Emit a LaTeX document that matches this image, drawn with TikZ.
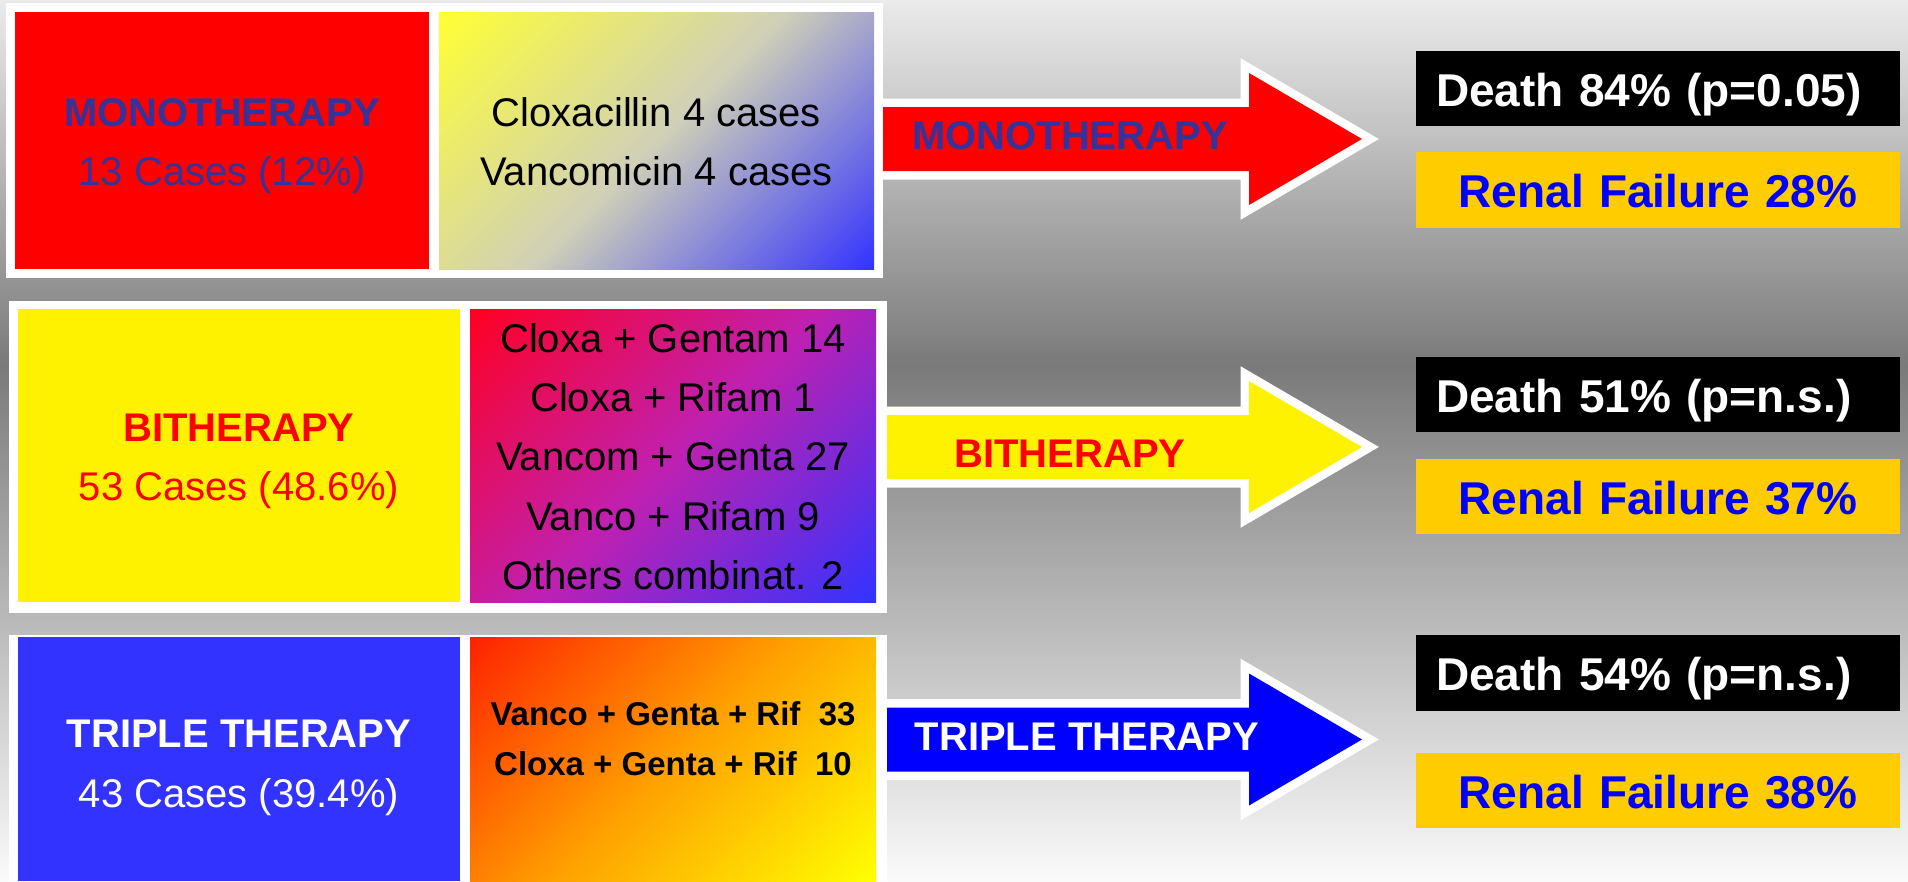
\documentclass[tikz,border=0pt]{standalone}
\usepackage{fontspec}
\setmainfont{Liberation Sans}
\definecolor{navyt}{HTML}{333399}
\definecolor{boxblue}{HTML}{3333FF}
\definecolor{gold}{HTML}{FFCC00}
\definecolor{bgtop}{HTML}{EBEBEB}
\definecolor{bgmid}{HTML}{7A7A7A}
\definecolor{bgbot}{HTML}{FAFAFA}
\definecolor{gyel}{HTML}{FFFF33}
\definecolor{gmidA}{HTML}{D0D0B8}
\definecolor{gred}{HTML}{FF0022}
\definecolor{gmidB}{HTML}{C020B0}
\definecolor{ored}{HTML}{FF2200}
\definecolor{omid}{HTML}{FFA000}
\definecolor{oyel}{HTML}{FFFF00}
\tikzset{
  framebox/.style={fill=white, inner sep=0pt, outer sep=0pt},
  panelbox/.style={inner sep=0pt, outer sep=0pt},
  txt/.style={anchor=base, inner sep=0pt, font=\fontsize{40}{48}\selectfont},
  txtb/.style={anchor=base, inner sep=0pt, font=\bfseries\fontsize{40}{48}\selectfont},
  txts/.style={anchor=base, inner sep=0pt, font=\bfseries\fontsize{33}{40}\selectfont},
  arrowbody/.style={preaction={draw=white, line width=17pt, line join=miter, miter limit=10}},
  resbox/.style={inner sep=0pt, outer sep=0pt, minimum width=484pt, minimum height=75.5pt,
     text width=444pt, text height=35pt, text depth=0pt, font=\bfseries\fontsize{46}{55}\selectfont},
  deathbox/.style={resbox, fill=black, text=white, align=left},
  renalbox/.style={resbox, fill=gold, text=blue, align=center},
}
\newcommand\blockarrow[2]{%
  \path[arrowbody, fill=#1] (870,#2-32) -- (1249,#2-32) -- (1249,#2-66) -- (1362,#2)
    -- (1249,#2+66) -- (1249,#2+32) -- (870,#2+32) -- cycle;}
\begin{document}
\begin{tikzpicture}[x=1pt, y=-1pt]
\useasboundingbox (0,0) rectangle (1908,881);
% background
\shade[top color=bgtop, bottom color=bgmid] (0,0) rectangle (1908,365);
\shade[top color=bgmid, bottom color=bgbot] (0,365) rectangle (1908,881);
% arrows
\blockarrow{red}{139}
\blockarrow{yellow}{447}
\blockarrow{blue}{739.5}
% frames
\node[framebox, minimum width=877pt, minimum height=275pt] (f1) at (444.5,140.5) {};
\node[framebox, minimum width=878pt, minimum height=312pt] (f2) at (448,457) {};
\node[framebox, minimum width=878pt, minimum height=246pt] (f3) at (448,758) {};
% panel boxes
\node[panelbox, fill=red, minimum width=414pt, minimum height=257pt] (mono) at (222,140.5) {};
\node[panelbox, minimum width=435pt, minimum height=257pt,
  path picture={\shade[top color=gyel, bottom color=boxblue, middle color=gmidA, shading angle=45]
    (path picture bounding box.center) ++(-245,-245) rectangle ++(490,490);}] (monod) at (656.5,140.5) {};
\node[panelbox, fill=yellow, minimum width=442pt, minimum height=293pt] (bi) at (239,455.5) {};
\node[panelbox, minimum width=406pt, minimum height=293pt,
  path picture={\shade[top color=gred, bottom color=boxblue, middle color=gmidB, shading angle=45]
    (path picture bounding box.center) ++(-247,-247) rectangle ++(494,494);}] (bid) at (673,455.5) {};
\node[panelbox, fill=boxblue, minimum width=442pt, minimum height=244pt] (tri) at (239,759) {};
\node[panelbox, minimum width=406pt, minimum height=244pt,
  path picture={\shade[top color=ored, bottom color=oyel, middle color=omid, shading angle=45]
    (path picture bounding box.center) ++(-230,-230) rectangle ++(460,460);}] (trid) at (673,759) {};
% panel texts
\node[txtb, text=navyt] (m1) at (222,126) {MONOTHERAPY};
\node[txt, text=navyt] (m2) at (222,185) {13 Cases (12\%)};
\node[txt] (md1) at (656.5,126) {Cloxacillin 4 cases};
\node[txt] (md2) at (656.5,185) {Vancomicin 4 cases};
\node[txtb, text=red] (b1) at (239,441) {BITHERAPY};
\node[txt, text=red] (b2) at (239,500) {53 Cases (48.6\%)};
\node[txt] (bd1) at (673,352) {Cloxa + Gentam 14};
\node[txt] (bd2) at (673,411) {Cloxa + Rifam 1};
\node[txt] (bd3) at (673,470) {Vancom + Genta 27};
\node[txt] (bd4) at (673,530) {Vanco + Rifam 9};
\node[txt] (bd5) at (673,589) {Others combinat. 2};
\node[txtb, text=white] (t1) at (239,747) {TRIPLE THERAPY};
\node[txt, text=white] (t2) at (239,807) {43 Cases (39.4\%)};
\node[txts] (td1) at (673,725) {Vanco + Genta + Rif\ \ 33};
\node[txts] (td2) at (673,775) {Cloxa + Genta + Rif\ \ 10};
% arrow labels
\node[txtb, text=navyt] (a1) at (1070,149) {MONOTHERAPY};
\node[txtb, text=red] (a2) at (1070,467) {BITHERAPY};
\node[txtb, text=white] (a3) at (1087,750) {TRIPLE THERAPY};
% results
\node[deathbox] (d1) at (1658,88.5) {Death 84\% (p=0.05)};
\node[renalbox] (r1) at (1658,190) {Renal Failure 28\%};
\node[deathbox] (d2) at (1658,394.5) {Death 51\% (p=n.s.)};
\node[renalbox] (r2) at (1658,496.5) {Renal Failure 37\%};
\node[deathbox] (d3) at (1658,673) {Death 54\% (p=n.s.)};
\node[renalbox] (r3) at (1658,790.5) {Renal Failure 38\%};
\end{tikzpicture}
\end{document}
